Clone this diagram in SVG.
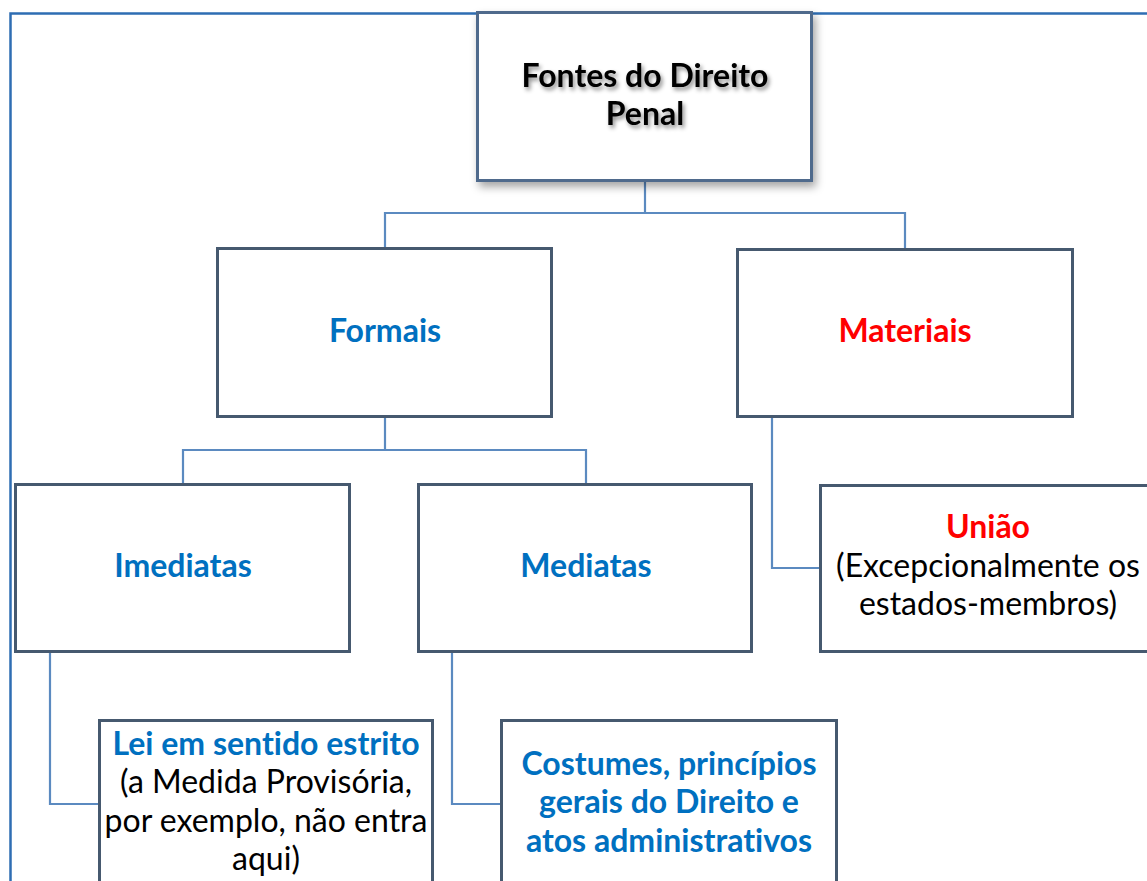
<svg xmlns="http://www.w3.org/2000/svg" width="1147" height="881" viewBox="0 0 1147 881">
<defs>
<filter id="shadow" x="-10%" y="-10%" width="125%" height="130%">
<feDropShadow dx="3" dy="5" stdDeviation="4" flood-color="#000" flood-opacity="0.35"/>
</filter>
<filter id="tshadow" x="-10%" y="-30%" width="125%" height="170%">
<feDropShadow dx="2" dy="3" stdDeviation="2" flood-color="#000" flood-opacity="0.45"/>
</filter>
</defs>
<style>
.box{fill:#fff;stroke:#46596F;stroke-width:3}
.conn{fill:none;stroke:#5B8AC0;stroke-width:2.2}
.frame{fill:none;stroke:#2E6DB3;stroke-width:2.5}
text{font-family:Lato,"Liberation Sans",sans-serif;text-anchor:middle;font-size:32px;font-variant-ligatures:none;font-feature-settings:"liga" 0}
.b{font-weight:bold}
.blue{fill:#0070C0}
.red{fill:#FF0000}
.blk{fill:#000}
</style>
<rect width="1147" height="881" fill="#fff"/>
<path class="frame" d="M10.5,881 V13.5 H1147"/>
<g id="connectors">
<path class="conn" d="M645,181 V213 M385,248 V213 H905 V249"/>
<path class="conn" d="M385,417 V450 M183,484 V450 H586 V484"/>
<path class="conn" d="M50,652 V804 H99"/>
<path class="conn" d="M452,652 V804 H501"/>
<path class="conn" d="M772,417 V568 H820"/>
</g>
<g id="root">
<rect x="477.5" y="12.5" width="334" height="168" fill="#fff" stroke="#4F6A8C" stroke-width="3" filter="url(#shadow)"/>
<g filter="url(#tshadow)">
<text class="b blk" x="645" y="87">Fontes do Direito</text>
<text class="b blk" x="645" y="125">Penal</text>
</g>
</g>
<g id="formais">
<rect class="box" x="217.5" y="248.5" width="334" height="168"/>
<text class="b blue" x="385" y="342">Formais</text>
</g>
<g id="materiais">
<rect class="box" x="737.5" y="249.5" width="335" height="167"/>
<text class="b red" x="905" y="342">Materiais</text>
</g>
<g id="imediatas">
<rect class="box" x="15.5" y="484.5" width="334" height="167"/>
<text class="b blue" x="183" y="577">Imediatas</text>
</g>
<g id="mediatas">
<rect class="box" x="418.5" y="484.5" width="333" height="167"/>
<text class="b blue" x="586" y="577">Mediatas</text>
</g>
<g id="uniao">
<rect class="box" x="820.5" y="485.5" width="335" height="166"/>
<text class="b red" x="988" y="538">União</text>
<text class="blk" x="988" y="577">(Excepcionalmente os</text>
<text class="blk" x="988" y="615">estados-membros)</text>
</g>
<g id="lei">
<rect class="box" x="99.5" y="720.5" width="333" height="170"/>
<text class="b blue" x="266" y="755">Lei em sentido estrito</text>
<text class="blk" x="266" y="793">(a Medida Provisória,</text>
<text class="blk" x="266" y="832">por exemplo, não entra</text>
<text class="blk" x="266" y="870">aqui)</text>
</g>
<g id="costumes">
<rect class="box" x="501.5" y="720.5" width="335" height="170"/>
<text class="b blue" x="669" y="775">Costumes, princípios</text>
<text class="b blue" x="669" y="813">gerais do Direito e</text>
<text class="b blue" x="669" y="852">atos administrativos</text>
</g>
</svg>
